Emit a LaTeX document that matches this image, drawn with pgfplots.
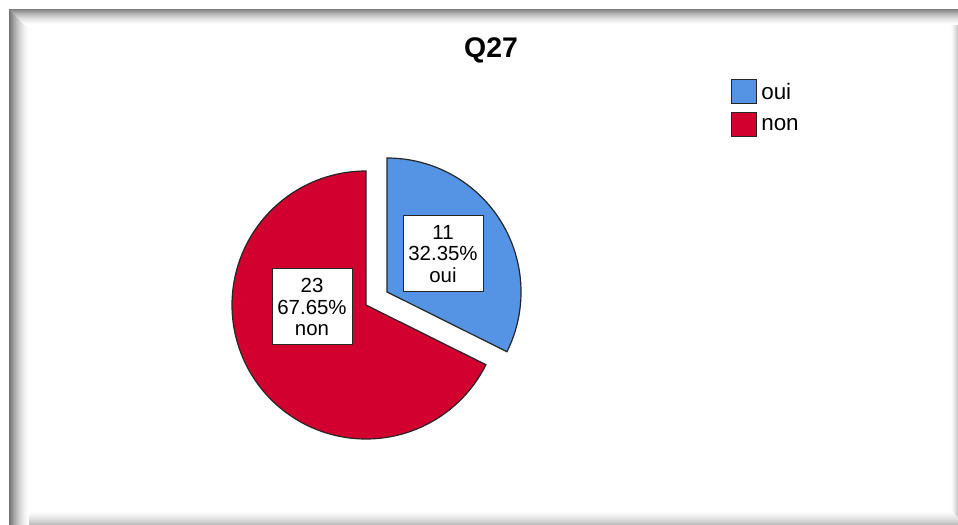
\documentclass[border=0pt]{standalone}
\usepackage{pgfplots}
\pgfplotsset{compat=1.18}
\usepackage{fontspec}
\setmainfont{Liberation Sans}
\definecolor{cblue}{RGB}{85,148,228}
\definecolor{cred}{RGB}{210,0,46}
\def\vOui{11}
\def\vNon{23}
\begin{document}
\begin{tikzpicture}[x=1bp,y=1bp]
\useasboundingbox (0,0) rectangle (958,525);
\fill[white] (0,0) rectangle (958,525);
% frame shadow (canvas y = 525 - pixel y)
\foreach \i in {0,...,19}{
  \pgfmathsetmacro\g{55*(1-\i/20)^1.6}
  \fill[black!\g] (9+\i,0) rectangle (10+\i,516-\i);
}
\foreach \i in {0,...,15}{
  \pgfmathsetmacro\g{50*(1-\i/16)^1.6}
  \fill[black!\g] (9+\i,516-\i) rectangle (958,515-\i);
}
\foreach \i in {0,...,14}{
  \pgfmathsetmacro\g{28*(\i/15)^1.5}
  \fill[black!\g] (29,15-\i) rectangle (958,14-\i);
}
\foreach \i in {0,...,7}{
  \pgfmathsetmacro\g{25*(\i/8)^1.5}
  \fill[black!\g] (950+\i,500) rectangle (951+\i,15-\i);
}
\pgfmathsetmacro\angA{90-360*\vOui/(\vOui+\vNon)}
\pgfmathsetmacro\angB{450-360*\vOui/(\vOui+\vNon)}
\begin{axis}[at={(0,0)}, anchor=south west, scale only axis,
  width=958bp, height=525bp, xmin=0, xmax=958, ymin=0, ymax=525,
  y dir=reverse, hide axis, clip=false,
  legend cell align=left,
  legend style={draw=none, fill=none, at={(axis cs:731,79)}, anchor=north west,
    font=\fontsize{22.5}{24}\selectfont, row sep=8bp, inner sep=0pt,
    nodes={inner xsep=4bp, inner ysep=2bp}},
  legend image code/.code={\draw[#1, line width=1.1bp] (0bp,-12bp) rectangle (25bp,12bp);}
  ]
\addplot[draw=black!85, line width=1.2bp, fill=cblue, no markers, domain=\angA:90, samples=150, variable=\t]
  ({387+134*cos(\t)},{292-134*sin(\t)}) -- (axis cs:387,292) -- cycle;
\addlegendentry{oui}
\addplot[draw=black!85, line width=1.2bp, fill=cred, no markers, domain=90:\angB, samples=250, variable=\t]
  ({366+134*cos(\t)},{305-134*sin(\t)}) -- (axis cs:366,305) -- cycle;
\addlegendentry{non}
\node[font=\bfseries\fontsize{28.5}{30}\selectfont] at (axis cs:491,50) {Q27};
\node[draw=black!85, line width=1bp, fill=white, minimum width=80bp, minimum height=76bp, inner sep=0pt, align=center,
  font=\fontsize{20.5}{22}\selectfont] at (axis cs:443,254) {11\\32.35\%\\oui};
\node[draw=black!85, line width=1bp, fill=white, minimum width=80bp, minimum height=76bp, inner sep=0pt, align=center,
  font=\fontsize{20.5}{22}\selectfont] at (axis cs:312,307) {23\\67.65\%\\non};
\end{axis}
\end{tikzpicture}
\end{document}
